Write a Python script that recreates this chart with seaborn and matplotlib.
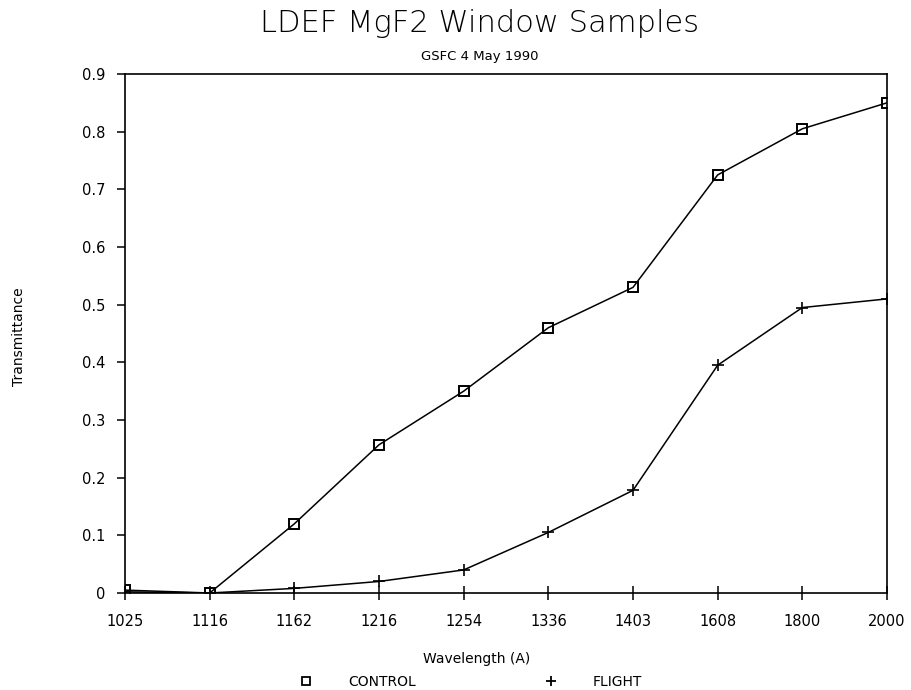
import pandas as pd
import matplotlib
matplotlib.use('Agg')
import matplotlib.pyplot as plt
from matplotlib.lines import Line2D
import seaborn as sns

# data
wavelength = ['1025', '1116', '1162', '1216', '1254', '1336', '1403', '1608', '1800', '2000']
control = [0.005, 0.0, 0.12, 0.257, 0.35, 0.46, 0.53, 0.725, 0.805, 0.85]
flight = [0.002, 0.0, 0.008, 0.02, 0.04, 0.105, 0.178, 0.395, 0.495, 0.51]
y_ticks = [0, 0.1, 0.2, 0.3, 0.4, 0.5, 0.6, 0.7, 0.8, 0.9]
y_tick_labels = ['0', '0.1', '0.2', '0.3', '0.4', '0.5', '0.6', '0.7', '0.8', '0.9']

df = pd.DataFrame({'pos': range(len(wavelength)), 'CONTROL': control, 'FLIGHT': flight})

sns.set_style('ticks')
plt.rcParams['font.family'] = ['DejaVu Sans']
for k in ['text.color', 'axes.labelcolor', 'xtick.color', 'ytick.color', 'axes.edgecolor']:
    plt.rcParams[k] = 'black'

W, H = 911, 690
fig = plt.figure(figsize=(W / 100, H / 100), dpi=100)
# axes box: left 125px, right 887px, top 74px, bottom 593px
ax = fig.add_axes([125 / W, 1 - 593 / H, (887 - 125) / W, (593 - 74) / H])

sns.lineplot(data=df, x='pos', y='CONTROL', ax=ax, color='black', linewidth=1.1,
             marker='s', markersize=7.5, markerfacecolor='none', markeredgecolor='black',
             markeredgewidth=1.4)
sns.lineplot(data=df, x='pos', y='FLIGHT', ax=ax, color='black', linewidth=1.1,
             marker='+', markersize=8, markeredgecolor='black', markeredgewidth=1.2)

ax.set_xlim(0, len(wavelength) - 1)
ax.set_ylim(0, 0.9)
ax.set_xticks(range(len(wavelength)))
ax.set_xticklabels(wavelength, fontsize=10.5)
ax.set_yticks(y_ticks)
ax.set_yticklabels(y_tick_labels, fontsize=10.5)
ax.tick_params(axis='x', direction='inout', length=10, width=1.1, pad=10)
ax.tick_params(axis='y', direction='out', length=6, width=1.1, pad=8)
for s in ax.spines.values():
    s.set_linewidth(1.2)
ax.set_xlabel('')
ax.set_ylabel('')

# thin title like the plotter font
fig.text(480 / W, 1 - 32 / H, 'LDEF MgF2 Window Samples', ha='center', va='baseline',
         fontsize=22, fontweight='light')
fig.text(480 / W, 1 - 60 / H, 'GSFC 4 May 1990', ha='center', va='baseline', fontsize=9.5)
fig.text(477 / W, 1 - 663 / H, 'Wavelength (A)', ha='center', va='baseline', fontsize=10)
fig.text(19 / W, 1 - 337 / H, 'Transmittance', ha='center', va='center', rotation=90,
         fontsize=10)

handles = [Line2D([], [], linestyle='none', marker='s', markersize=5.5,
                  markerfacecolor='none', markeredgecolor='black', markeredgewidth=1.3),
           Line2D([], [], linestyle='none', marker='+', markersize=7,
                  markeredgecolor='black', markeredgewidth=1.3)]
fig.legend(handles, ['CONTROL', 'FLIGHT'], loc='center left',
           bbox_to_anchor=(287 / W, 1 - 682 / H), ncol=2, frameon=False, fontsize=10,
           handlelength=1.0, handletextpad=2.5, columnspacing=9.2, borderpad=0.4)

fig.savefig('out.png', dpi=100)
